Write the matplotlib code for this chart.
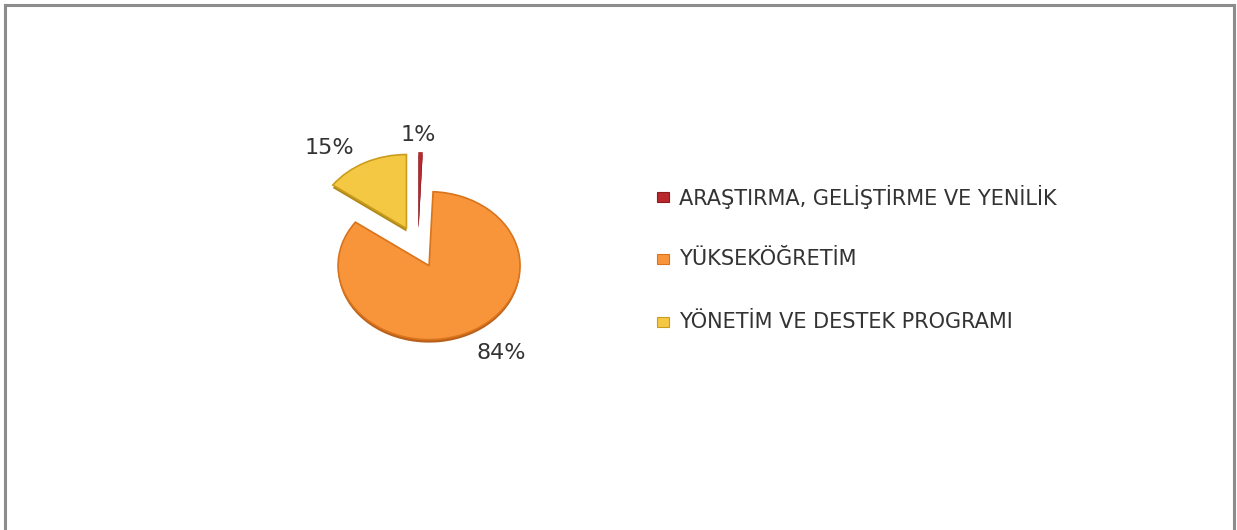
import numpy as np
import matplotlib
matplotlib.use('Agg')
import matplotlib.pyplot as plt
from matplotlib.patches import Rectangle

# data
categories = ['ARAŞTIRMA, GELİŞTİRME VE YENİLİK', 'YÜKSEKÖĞRETİM', 'YÖNETİM VE DESTEK PROGRAMI']
shares = [0.7, 84.3, 15.0]

# styles
face_colors = ['#B8282C', '#F8943A', '#F5C843']
edge_colors = ['#8E1A1E', '#D9741C', '#C99D1E']
side_colors = ['#7A1518', '#B8601A', '#B08818']
edge_widths = [0.3, 1.2, 1.2]
text_color = '#333333'
explode = 0.28
label_dist = [1.52, 1.70, 1.65]
label_turn = [1.0, 7.0, 9.0]   # degrees, nudges the pct labels like Excel's best fit

W, H = 1237, 530
fig = plt.figure(figsize=(W / 100, H / 100), dpi=100)
fig.patch.set_facecolor('white')

# outer frame (bottom edge is cut off in the original)
fig.add_artist(Rectangle((4.5 / W, -0.05), (1233.5 - 4.5) / W, (H - 5) / H + 0.05,
                         transform=fig.transFigure, fill=False,
                         edgecolor='#8C8C8C', linewidth=2.2))

# pie axes: squashed so the pie is an ellipse (3D tilt look)
cx, cy = 418, 247          # pixel centre, y from top
rx, ry = 91, 74
span = 1.6
ax = fig.add_axes([(cx - span * rx) / W, (H - cy - span * ry) / H,
                   2 * span * rx / W, 2 * span * ry / H])

ex = [explode] * len(shares)
# thin side / thickness under each slice
ax.pie(shares, colors=side_colors, startangle=90, counterclock=False,
       explode=ex, center=(0, -0.04), radius=1.0,
       wedgeprops=dict(linewidth=0))
wedges, _ = ax.pie(shares, colors=face_colors, startangle=90, counterclock=False,
                   explode=ex, radius=1.0)
for w, ec, lw in zip(wedges, edge_colors, edge_widths):
    w.set_edgecolor(ec)
    w.set_linewidth(lw)

ax.set_aspect('auto')
ax.set_xlim(-span, span)
ax.set_ylim(-span, span)
ax.axis('off')

total = float(sum(shares))
cum = np.cumsum(shares) - np.array(shares) / 2.0
for i, v in enumerate(shares):
    theta = np.deg2rad(90 - 360 * cum[i] / total + label_turn[i])
    ax.text(label_dist[i] * np.cos(theta), label_dist[i] * np.sin(theta),
            '{:d}%'.format(int(round(100 * v / total))),
            ha='center', va='center', fontsize=16, color=text_color,
            family='DejaVu Sans')

# legend
rows_y = [197, 259, 322]
for name, fc, ec, y in zip(categories, face_colors, edge_colors, rows_y):
    fig.add_artist(Rectangle((657 / W, (H - y - 5) / H), 12 / W, 10 / H,
                             transform=fig.transFigure, facecolor=fc,
                             edgecolor=ec, linewidth=0.8))
    fig.text(679 / W, (H - y) / H, name, ha='left', va='center',
             fontsize=15, color=text_color, family='DejaVu Sans')

fig.savefig('out.png', dpi=100)
